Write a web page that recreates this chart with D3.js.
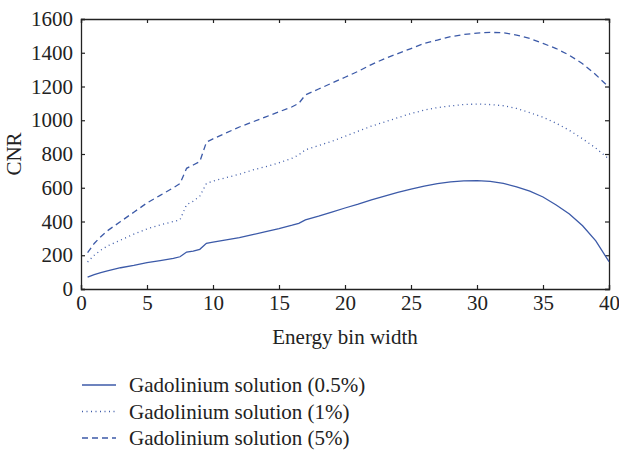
<!DOCTYPE html>
<html>
<head>
<meta charset="utf-8">
<script src="https://cdn.jsdelivr.net/npm/d3@7"></script>
<style>
  body { margin: 0; background: #fff; }
  svg text { font-family: 'Liberation Serif', serif !important; fill: #222; }
</style>
</head>
<body>
<svg id="chart" width="619" height="450"></svg>
<script>
// data
const binWidth = [0.5, 1, 1.5, 2, 3, 4, 5, 6, 7, 7.5, 8, 8.5, 9, 9.5, 10, 11, 12, 13, 14, 15, 16, 16.5, 17, 18, 19, 20,
  21, 22, 23, 24, 25, 26, 27, 28, 29, 30, 31, 32, 33, 34, 35, 36, 37, 38, 39, 40];
const gd05 = [70, 85, 97, 108, 126, 140, 156, 168, 181, 191, 219, 225, 235, 271, 278, 291, 305, 322, 340, 358, 378, 389, 410, 432, 456, 480,
  503, 528, 551, 572, 592, 610, 624, 635, 641, 642, 638, 626, 605, 580, 545, 498, 445, 375, 285, 162];
const gd1 = [160, 200, 230, 255, 290, 325, 356, 380, 400, 410, 500, 520, 550, 625, 640, 660, 680, 705, 725, 748, 775, 795, 825, 850, 875, 905,
  935, 965, 990, 1015, 1040, 1060, 1075, 1085, 1093, 1096, 1093, 1086, 1070, 1045, 1018, 982, 940, 890, 835, 770];
const gd5 = [215, 270, 310, 345, 400, 455, 510, 555, 600, 625, 715, 735, 755, 870, 890, 925, 960, 990, 1020, 1050, 1080, 1100, 1150, 1185, 1220, 1255,
  1290, 1330, 1365, 1395, 1425, 1455, 1475, 1495, 1508, 1516, 1521, 1518, 1505, 1485, 1455, 1425, 1385, 1335, 1270, 1195];
const seriesNames = ["Gadolinium solution (0.5%)", "Gadolinium solution (1%)", "Gadolinium solution (5%)"];
const xTicks = [0, 5, 10, 15, 20, 25, 30, 35, 40];
const yTicks = [0, 200, 400, 600, 800, 1000, 1200, 1400, 1600];

const margin = { top: 19, right: 10, bottom: 161, left: 81 };
const width = 619 - margin.left - margin.right;
const height = 450 - margin.top - margin.bottom;
const blue = "#3c5aa8";
const dashes = ["none", "1,3.5", "6,4"];
const fontSize = "21px";

const svg = d3.select("#chart")
  .append("g")
  .attr("transform", `translate(${margin.left},${margin.top})`);

const x = d3.scaleLinear().domain([0, 40]).range([0, width]);
const y = d3.scaleLinear().domain([0, 1600]).range([height, 0]);

// box with inward ticks on all sides
const tick = 4;
svg.append("g").attr("transform", `translate(0,${height})`)
  .call(d3.axisBottom(x).tickValues(xTicks).tickSize(-tick).tickPadding(6).tickFormat(d3.format("d")));
svg.append("g")
  .call(d3.axisTop(x).tickValues(xTicks).tickSize(-tick).tickFormat(""));
svg.append("g")
  .call(d3.axisLeft(y).tickValues(yTicks).tickSize(-tick).tickPadding(8).tickFormat(d3.format("d")));
svg.append("g").attr("transform", `translate(${width},0)`)
  .call(d3.axisRight(y).tickValues(yTicks).tickSize(-tick).tickFormat(""));
svg.selectAll("g").attr("font-family", "Liberation Serif, serif");
svg.selectAll(".domain").attr("stroke", "#222").attr("stroke-width", 1.3);
svg.selectAll(".tick line").attr("stroke", "#222").attr("stroke-width", 1.2);
svg.selectAll(".tick text").attr("fill", "#222").style("font-size", fontSize);

// lines
const line = d3.line().x((d, i) => x(binWidth[i])).y(d => y(d));
[gd05, gd1, gd5].forEach((s, i) => {
  svg.append("path")
    .datum(s)
    .attr("fill", "none")
    .attr("stroke", blue)
    .attr("stroke-width", 1.3)
    .attr("stroke-dasharray", dashes[i])
    .attr("d", line);
});

// axis labels
svg.append("text")
  .attr("x", width / 2)
  .attr("y", height + 55)
  .attr("text-anchor", "middle")
  .style("font-size", fontSize)
  .text("Energy bin width");

svg.append("text")
  .attr("transform", "rotate(-90)")
  .attr("x", -height / 2)
  .attr("y", -60)
  .attr("text-anchor", "middle")
  .style("font-size", fontSize)
  .text("CNR");

// legend
seriesNames.forEach((name, i) => {
  const ly = height + 96 + i * 26.5;
  svg.append("line")
    .attr("x1", 1).attr("x2", 35)
    .attr("y1", ly).attr("y2", ly)
    .attr("stroke", blue)
    .attr("stroke-width", 1.3)
    .attr("stroke-dasharray", dashes[i]);
  svg.append("text")
    .attr("x", 48)
    .attr("y", ly)
    .attr("dy", "0.35em")
    .style("font-size", fontSize)
    .text(name);
});
</script>
</body>
</html>
